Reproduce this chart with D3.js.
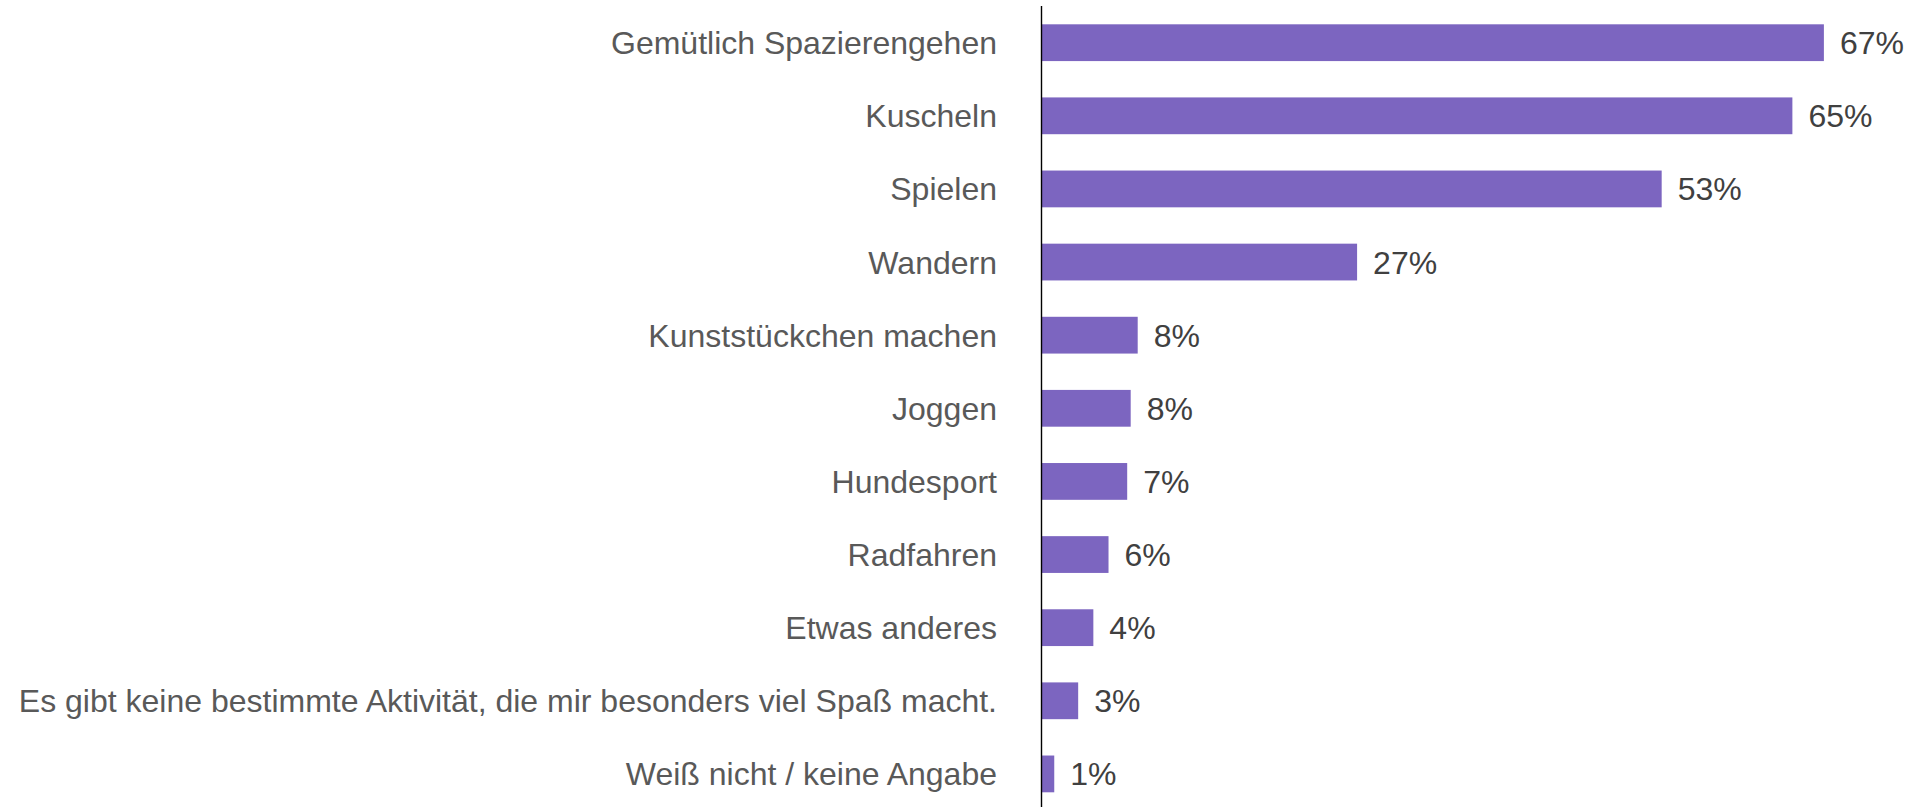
<!DOCTYPE html>
<html>
<head>
<meta charset="utf-8">
<script src="https://cdn.jsdelivr.net/npm/d3@7"></script>
<style>
  body { margin: 0; background: #fff; }
  svg { display: block; }
  .cat { font-family: "Liberation Sans", Arial, sans-serif; font-size: 32px; fill: #595959; }
  .val { font-family: "Liberation Sans", Arial, sans-serif; font-size: 32px; fill: #404040; }
</style>
</head>
<body>
<div id="chart"></div>
<script>
// categories and shares (in percent)
const categories = [
  "Gemütlich Spazierengehen",
  "Kuscheln",
  "Spielen",
  "Wandern",
  "Kunststückchen machen",
  "Joggen",
  "Hundesport",
  "Radfahren",
  "Etwas anderes",
  "Es gibt keine bestimmte Aktivität, die mir besonders viel Spaß macht.",
  "Weiß nicht / keine Angabe"
];
const values = [67.0, 64.3, 53.1, 27.0, 8.2, 7.6, 7.3, 5.7, 4.4, 3.1, 1.05];
const valueLabels = ["67%", "65%", "53%", "27%", "8%", "8%", "7%", "6%", "4%", "3%", "1%"];

const width = 1909, height = 807;
const axisX = 1041.5;

const data = categories.map((c, i) => ({ cat: c, value: values[i], label: valueLabels[i] }));

const svg = d3.select('#chart').append('svg')
  .attr('width', width)
  .attr('height', height);

// scales
const x = d3.scaleLinear()
  .domain([0, 100])
  .range([axisX + 0.5, axisX + 0.5 + 1167]);

const y = d3.scaleBand()
  .domain(categories)
  .range([24.3, 792.3])
  .paddingInner(0.497)
  .paddingOuter(0);

// bars
svg.selectAll('rect.bar')
  .data(data)
  .enter().append('rect')
  .attr('class', 'bar')
  .attr('x', x(0))
  .attr('y', d => y(d.cat))
  .attr('width', d => x(d.value) - x(0))
  .attr('height', y.bandwidth())
  .style('fill', '#7C65C0');

// category labels
svg.selectAll('text.cat')
  .data(data)
  .enter().append('text')
  .attr('class', 'cat')
  .attr('x', axisX - 44.5)
  .attr('y', d => y(d.cat) + y.bandwidth() / 2)
  .attr('dy', '0.36em')
  .attr('text-anchor', 'end')
  .text(d => d.cat);

// value labels
svg.selectAll('text.val')
  .data(data)
  .enter().append('text')
  .attr('class', 'val')
  .attr('x', d => x(d.value) + 16)
  .attr('y', d => y(d.cat) + y.bandwidth() / 2)
  .attr('dy', '0.36em')
  .text(d => d.label);

// vertical axis line
svg.append('line')
  .attr('x1', axisX).attr('x2', axisX)
  .attr('y1', 6).attr('y2', height)
  .style('stroke', '#000')
  .style('stroke-width', 1.4);
</script>
</body>
</html>
